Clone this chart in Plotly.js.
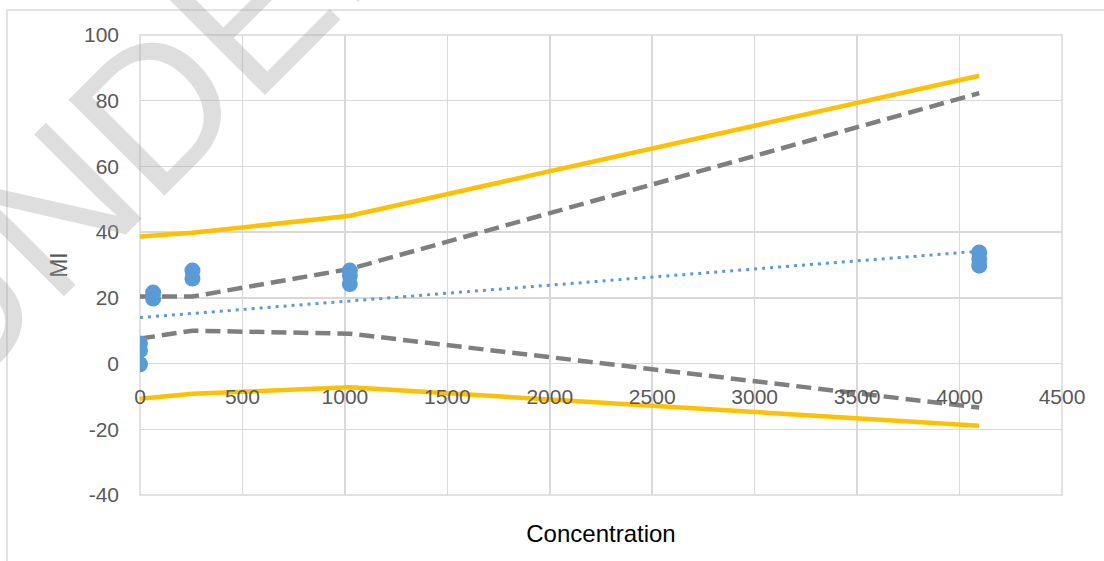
<!DOCTYPE html>
<html>
<head>
<meta charset="utf-8">
<script src="https://cdn.plot.ly/plotly-3.0.1.min.js"></script>
<style>html,body{margin:0;padding:0;background:#fff;}#chart{width:1104px;height:561px;}</style>
</head>
<body>
<div id="chart"></div>
<script>
// ---- data ----
var pointConc = [0, 0, 0, 64, 64, 256, 256, 1024, 1024, 1024, 4096, 4096, 4096];
var pointMI   = [6.1, 4.0, -0.2, 21.6, 19.8, 28.3, 25.9, 28.3, 26.8, 24.2, 33.8, 31.8, 29.8];

var bandConc  = [0, 256, 1024, 4096];
var predUpper = [38.7, 39.8, 45.0, 87.6];
var predLower = [-10.7, -9.2, -7.2, -18.9];
var confUpper = [20.4, 20.4, 28.8, 82.3];
var confLower = [7.6, 10.0, 9.1, -13.4];

var fitConc = [0, 4096];
var fitMI   = [14.0, 34.2];

var xTickVals = [0, 500, 1000, 1500, 2000, 2500, 3000, 3500, 4000, 4500];
var yTickVals = [-40, -20, 0, 20, 40, 60, 80, 100];
var xTitle = 'Concentration';
var yTitle = 'MI';
var watermark = 'UNDER';

var yellow = '#FFC000', gray = '#7F7F7F', blue = '#5B9BD5';

var traces = [
  {x: bandConc, y: predUpper, mode: 'lines', line: {color: yellow, width: 4.5}, hoverinfo: 'skip'},
  {x: bandConc, y: predLower, mode: 'lines', line: {color: yellow, width: 4.5}, hoverinfo: 'skip'},
  {x: bandConc, y: confUpper, mode: 'lines', line: {color: gray, width: 4.5, dash: '15px,7px'}, hoverinfo: 'skip'},
  {x: bandConc, y: confLower, mode: 'lines', line: {color: gray, width: 4.5, dash: '15px,7px'}, hoverinfo: 'skip'},
  {x: fitConc, y: fitMI, mode: 'lines', line: {color: blue, width: 3, dash: '3px,5px'}, hoverinfo: 'skip'},
  {x: pointConc, y: pointMI, mode: 'markers', marker: {color: blue, size: 16}}
];

var tickFont = {family: 'Liberation Sans, Arial, sans-serif', size: 21, color: '#595959'};
var grid = '#d9d9d9';

var layout = {
  width: 1104, height: 561,
  margin: {l: 140, r: 42, t: 35, b: 66},
  paper_bgcolor: '#ffffff', plot_bgcolor: '#ffffff',
  showlegend: false,
  font: {family: 'Liberation Sans, Arial, sans-serif'},
  xaxis: {
    range: [0, 4500], tickvals: xTickVals, ticktext: xTickVals.map(String),
    showgrid: true, gridcolor: grid, gridwidth: 1.5, zeroline: false, showline: false,
    ticks: '', tickfont: tickFont,
    anchor: 'free', position: 0.245,
    title: {text: xTitle, font: {size: 24, color: '#000000'}, standoff: 117}
  },
  yaxis: {
    range: [-40, 100], tickvals: yTickVals, ticktext: yTickVals.map(String),
    showgrid: true, gridcolor: grid, gridwidth: 1.5, zeroline: false, showline: false,
    ticks: '', tickfont: tickFont, ticklabelstandoff: 20,
    title: {text: yTitle, font: {size: 23, color: '#595959'}, standoff: 9}
  },
  shapes: [
    {type: 'rect', xref: 'paper', yref: 'paper', x0: 0, x1: 1, y0: 0, y1: 1,
     line: {color: grid, width: 1.5}, layer: 'below'},
    {type: 'line', xref: 'paper', yref: 'paper', x0: -0.1443, x1: -0.1443, y0: -0.2, y1: 1.0543,
     line: {color: grid, width: 1.5}},
    {type: 'line', xref: 'paper', yref: 'paper', x0: -0.1443, x1: 1.1, y0: 1.0543, y1: 1.0543,
     line: {color: grid, width: 1.5}}
  ],
  annotations: [
    {text: watermark, xref: 'paper', yref: 'paper', x: 0.0117, y: 0.8313,
     xanchor: 'center', yanchor: 'middle', showarrow: false, textangle: -45,
     font: {family: 'Liberation Sans Narrow, Liberation Sans, Arial, sans-serif', size: 197, color: 'rgba(160,160,160,0.35)'}}
  ]
};

Plotly.newPlot('chart', traces, layout, {staticPlot: true, displayModeBar: false});
</script>
</body>
</html>
